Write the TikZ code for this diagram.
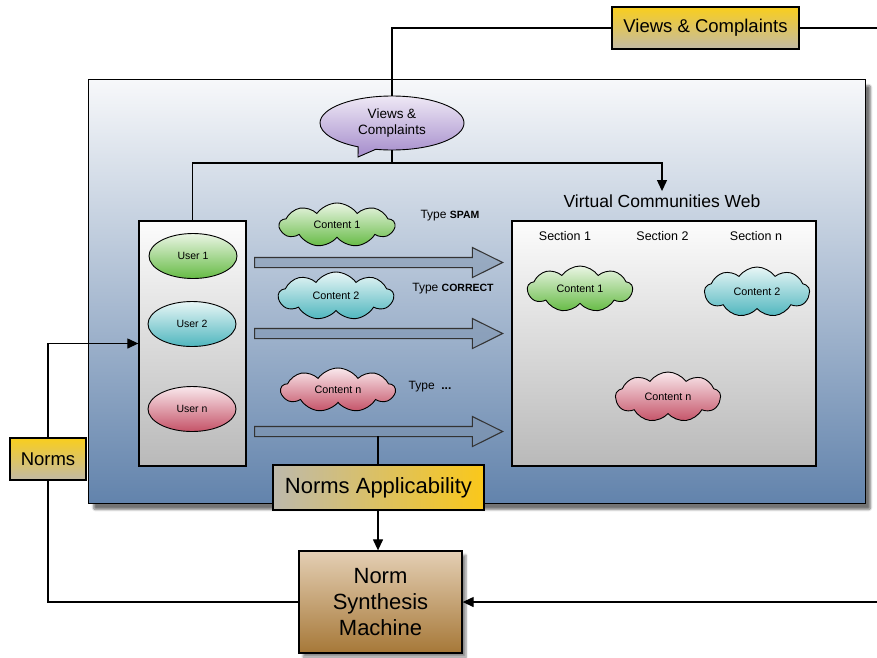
\documentclass[tikz,border=0pt]{standalone}
\usepackage{fontspec}
\setmainfont{Liberation Sans}
\usetikzlibrary{shapes.geometric,shapes.symbols,shapes.callouts,shapes.arrows,shadows,shadows.blur,arrows.meta}
\definecolor{yelT}{HTML}{F9CE1D}
\definecolor{yelB}{HTML}{C2BAA6}
\definecolor{mainT}{HTML}{F7F8FA}
\definecolor{mainB}{HTML}{6283AC}
\definecolor{gT}{HTML}{EAF5E4}
\definecolor{gB}{HTML}{66BB45}
\definecolor{cT}{HTML}{E8F6F6}
\definecolor{cB}{HTML}{4FB6BE}
\definecolor{rT}{HTML}{F9E8EC}
\definecolor{rB}{HTML}{C55368}
\definecolor{pT}{HTML}{EEE8F5}
\definecolor{pB}{HTML}{A48BCB}
\definecolor{grT}{HTML}{FCFCFC}
\definecolor{grB}{HTML}{B9B9B9}
\definecolor{naL}{HTML}{BDB9AC}
\definecolor{naR}{HTML}{FAC81A}
\definecolor{nsT}{HTML}{E4CFB4}
\definecolor{nsB}{HTML}{A67838}
\definecolor{arrF}{HTML}{7D93AE}
\begin{document}
\begin{tikzpicture}[x=1pt,y=-1pt,
  ln/.style={line width=1.2pt,draw=black},
  arr/.style={ln,-{Triangle[length=11pt,width=10pt]}},
  frame/.style={draw=black,line width=1.3pt,inner sep=0pt},
  yelbox/.style={frame,top color=yelT,bottom color=yelB},
  userell/.style={ellipse,draw=black,line width=0.9pt,minimum width=88pt,minimum height=45pt,inner sep=0pt,font=\fontsize{10.5}{12}\selectfont},
  cloudn/.style={cloud,cloud puffs=9,cloud puff arc=110,cloud ignores aspect,draw=black,line width=0.9pt,inner sep=0pt,font=\fontsize{10.8}{12}\selectfont},
  bigarrow/.style={single arrow,draw=black!80,line width=1.1pt,fill=arrF,fill opacity=0.55,draw opacity=1,inner xsep=0pt,inner ysep=4.5pt,minimum height=248pt,single arrow head extend=10pt,single arrow tip angle=53,anchor=tail},
  typelbl/.style={font=\fontsize{12}{14}\selectfont},
  seclbl/.style={font=\fontsize{12.5}{14}\selectfont}
]
\useasboundingbox (0,0) rectangle (877,657);

% main container
\node[frame,top color=mainT,bottom color=mainB,minimum width=777pt,minimum height=424pt,
  blur shadow={shadow xshift=5pt,shadow yshift=-6pt,shadow blur steps=8,shadow blur extra rounding=2pt,shadow opacity=55}] (main) at (477,291.5) {};

% top views & complaints box
\node[yelbox,minimum width=187pt,minimum height=42pt,font=\fontsize{18.5}{20}\selectfont] (vc) at (705.5,28) {Views \& Complaints};
\coordinate (rtop) at (877,28);
\draw[ln] (vc.east) -- (rtop);

% speech bubble
\node[ellipse callout,draw=black,line width=0.9pt,top color=pT,bottom color=pB,minimum width=144pt,minimum height=54pt,inner sep=0pt,
  callout absolute pointer={(358,157)},align=center,font=\fontsize{13.5}{16}\selectfont] (bubble) at (392,123) {Views \&\\Complaints};
\draw[ln] (vc.west) -| (bubble.north);

% users box
\node[frame,top color=grT,bottom color=grB,minimum width=107pt,minimum height=245pt] (users) at (192.5,343.5) {};
\coordinate (corner) at (662,163);
\draw[ln] (bubble.south) -- (bubble.south |- corner);

% web title and box
\node[font=\fontsize{17.5}{20}\selectfont] (vcw) at (662,201) {Virtual Communities Web};
\draw[arr] (users.north) |- (corner) -- (vcw.north);
\node[frame,top color=grT,bottom color=grB,minimum width=304pt,minimum height=245pt] (web) at (664,343.5) {};
\node[seclbl] (s1) at (565,236) {Section 1};
\node[seclbl] (s2) at (662.5,236) {Section 2};
\node[seclbl] (sn) at (756,236) {Section n};

% users
\node[userell,top color=gT,bottom color=gB] (u1) at (193,256) {User 1};
\node[userell,top color=cT,bottom color=cB] (u2) at (192,324) {User 2};
\node[userell,top color=rT,bottom color=rB] (un) at (192,409) {User n};

% big arrows
\node[bigarrow] (arr1) at (254,262.5) {};
\node[bigarrow] (arr2) at (254,333.5) {};
\node[bigarrow] (arr3) at (254,431.5) {};

% clouds left
\node[cloudn,top color=gT,bottom color=gB,minimum width=115pt,minimum height=44pt] (c1) at (337,225) {Content 1};
\node[cloudn,top color=cT,bottom color=cB,minimum width=115pt,minimum height=48pt] (c2) at (336,296) {Content 2};
\node[cloudn,top color=rT,bottom color=rB,minimum width=114pt,minimum height=44pt] (cn) at (338,390) {Content n};

% type labels
\node[typelbl] (t1) at (450,216) {Type {\fontsize{10.5}{12}\selectfont\bfseries SPAM}};
\node[typelbl] (t2) at (453,289) {Type {\fontsize{10.5}{12}\selectfont\bfseries CORRECT}};
\node[typelbl] (t3) at (430,387) {Type\ \ {\bfseries ...}};

% clouds right
\node[cloudn,top color=gT,bottom color=gB,minimum width=105pt,minimum height=46pt] (w1) at (580,289) {Content 1};
\node[cloudn,top color=cT,bottom color=cB,minimum width=105pt,minimum height=50pt] (w2) at (757,292) {Content 2};
\node[cloudn,top color=rT,bottom color=rB,minimum width=105pt,minimum height=50pt] (wn) at (668,397) {Content n};

% norms applicability
\node[frame,left color=naL,right color=naR,minimum width=211pt,minimum height=45pt,font=\fontsize{22}{24}\selectfont] (na) at (378.5,487.5) {Norms Applicability};
\coordinate (a3b) at (378,436);
\draw[ln] (a3b) -- (a3b |- na.north);

% norm synthesis machine
\node[frame,top color=nsT,bottom color=nsB,minimum width=163pt,minimum height=102pt,align=center,
  font=\fontsize{22}{26}\selectfont,blur shadow={shadow xshift=4pt,shadow yshift=-4pt,shadow blur steps=6,shadow opacity=45}] (nsm) at (380.5,602) {Norm\\Synthesis\\Machine};
\draw[arr] (na.south -| 378,0) -- (nsm.north -| 378,0);
\coordinate (rbot) at (877,602);
\draw[arr] (rbot) -- (nsm.east);

% norms
\node[yelbox,minimum width=76pt,minimum height=42pt,font=\fontsize{18.5}{20}\selectfont] (norms) at (48,459) {Norms};
\draw[ln] (nsm.west) -| (norms.south);
\draw[arr] (norms.north) |- (users.west);
\end{tikzpicture}
\end{document}
